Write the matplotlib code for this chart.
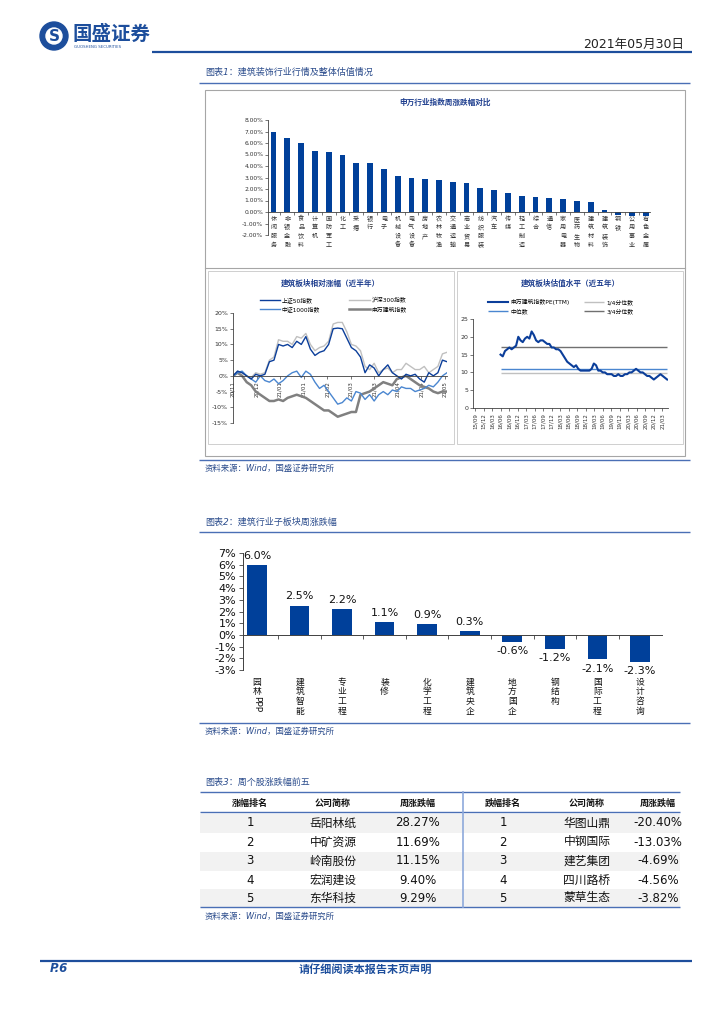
import numpy as np
import matplotlib
matplotlib.use('Agg')
import matplotlib.pyplot as plt
from matplotlib.patches import Rectangle, Circle

plt.rcParams['font.family'] = ['DejaVu Sans', 'Noto Sans CJK SC']
plt.rcParams['axes.unicode_minus'] = False

W, H = 724, 1024
BLUE = '#1D4E9C'
NAVY = '#00409A'
CAP = '#2B4C8C'
GRID = '#404040'
CJK = 'Noto Sans CJK SC'

# ---- 图表1 上: 申万行业指数周涨跌幅 ----
sw_names = ['休闲服务', '非银金融', '食品饮料', '计算机', '国防军工', '化工', '采掘',
            '银行', '电子', '机械设备', '电气设备', '房地产', '农林牧渔', '交通运输',
            '商业贸易', '纺织服装', '汽车', '传媒', '轻工制造', '综合', '通信',
            '家用电器', '医药生物', '建筑材料', '建筑装饰', '钢铁', '公用事业', '有色金属']
sw_chg = [6.93, 6.43, 6.00, 5.30, 5.22, 4.97, 4.27, 4.22, 3.78, 3.10, 2.94, 2.88,
          2.82, 2.62, 2.50, 2.06, 1.95, 1.63, 1.42, 1.31, 1.19, 1.13, 0.93, 0.87,
          0.15, -0.30, -0.32, -0.35]

# ---- 图表1 左下: 建筑板块相对涨幅（近半年）----
rel_ticks = ['20/11', '20/12', '21/01', '21/01', '21/02', '21/03', '21/03', '21/04', '21/04', '21/05']
sz50 = [0, 1.5, 1.0, 0, -1.0, 0.5, 0, 0.5, 4.5, 5, 10, 9.5, 10, 9, 11, 10, 12.5, 8.5,
        6.5, 7.5, 8, 10, 15, 15.2, 15, 12, 9, 8, 6, 1, 3.5, 2.5, 0, 2, 3.5, 1, 0, -1,
        0.5, 0, 0.5, -1, -2, 1, 0, 1, 5, 4.5]
hs300 = [0, 1.5, 1.0, 0, -0.5, 1, 0.5, 1, 5, 6, 11.5, 11, 11, 10, 12.5, 12, 13.5, 10,
         8, 9, 9.5, 11, 16.5, 17, 17, 14, 10, 9.5, 8, 3, 2, 4, 1, 2, 2.5, 1, 2, 2, 4,
         3, 2, 2, 3, 1, 2, 3, 7, 7.5]
zz1000 = [0, 1, 1.5, 0, -1, -2, 0, -1.5, -2, -1, -2.5, -1.5, 0, 1, 1.5, -0.5, 1.5, 0.5,
          -2, -4, -3, -5, -7, -9, -8.5, -7, -8, -5, -5.5, -7.5, -6, -8, -6, -5, -6,
          -4.5, -5, -3.5, -4, -4, -5, -4.5, -4, -3, -3.5, -2, 0, 1]
sw_build = [0, 1, 0, -2, -3, -5, -6, -7, -8, -8, -7.5, -8, -7, -6.5, -6, -6.5, -7, -8,
            -9, -10, -11, -11, -12, -13, -12.5, -12, -11.5, -11.5, -6, -5.5, -5, -4,
            -3, -2, -2.5, -3, -1, -0.5, 0, -1, -2, -3, -3.5, -4, -5, -5.5, -5, -5]

# ---- 图表1 右下: 建筑板块估值水平（近五年）----
pe_ticks = ['15/09', '15/12', '16/03', '16/06', '16/09', '16/12', '17/03', '17/06',
            '17/09', '17/12', '18/03', '18/06', '18/09', '18/12', '19/03', '19/06',
            '19/09', '19/12', '20/03', '20/06', '20/09', '20/12', '21/03']
pe = [15, 14.5, 16, 16.5, 17, 16.5, 17, 17.5, 20, 19, 18.5, 19.5, 20, 19.5, 21.5, 20.5,
      19, 18.5, 19, 19, 18.5, 18, 18, 17, 17, 16.5, 16.5, 16, 15, 14, 13, 12.5, 12,
      11.5, 12, 11, 10.5, 10.5, 10.5, 10.5, 10.5, 11, 12.5, 12, 10.5, 10.5, 10, 10,
      9.5, 9.5, 9.5, 9, 9, 9.5, 9, 9, 9.5, 9.5, 10, 10, 10.5, 11, 10.5, 10, 10, 9.5,
      9, 9, 8.5, 8, 8.5, 9, 9.5, 9, 8.5, 8]
pe_q1, pe_med, pe_q3 = 9.7, 11.0, 17.0

# ---- 图表2: 建筑行业子板块周涨跌幅 ----
sub_names = ['园林PPP', '建筑智能', '专业工程', '装修', '化学工程', '建筑央企',
             '地方国企', '钢结构', '国际工程', '设计咨询']
sub_chg = [6.0, 2.5, 2.2, 1.1, 0.9, 0.3, -0.6, -1.2, -2.1, -2.3]

# ---- 图表3: 周个股涨跌幅前五 ----
tbl_header = ['涨幅排名', '公司简称', '周涨跌幅', '跌幅排名', '公司简称', '周涨跌幅']
up_rank = ['1', '2', '3', '4', '5']
up_name = ['岳阳林纸', '中矿资源', '岭南股份', '宏润建设', '东华科技']
up_chg = ['28.27%', '11.69%', '11.15%', '9.40%', '9.29%']
dn_rank = ['1', '2', '3', '4', '5']
dn_name = ['华图山鼎', '中钢国际', '建艺集团', '四川路桥', '蒙草生态']
dn_chg = ['-20.40%', '-13.03%', '-4.69%', '-4.56%', '-3.82%']

fig = plt.figure(figsize=(W / 100, H / 100), dpi=100)
bg = fig.add_axes([0, 0, 1, 1])
bg.set_xlim(0, W)
bg.set_ylim(H, 0)
bg.axis('off')


def px_axes(x0, y0, x1, y1):
    a = fig.add_axes([x0 / W, 1 - y1 / H, (x1 - x0) / W, (y1 - y0) / H])
    a.patch.set_alpha(0)
    return a


def hline(y, x0=199, x1=690, color='#4A6FB5', lw=1.0):
    bg.plot([x0, x1], [y, y], color=color, lw=lw, solid_capstyle='butt')


def stack(s):
    return '\n'.join(s)


# header
bg.add_patch(Circle((54, 36), 14, color=BLUE))
bg.add_patch(Circle((54, 36), 8, color='white'))
bg.text(54, 36.5, 'S', color=BLUE, fontsize=11, fontweight='bold', ha='center', va='center')
bg.text(73, 34, '国盛证券', fontsize=14, fontweight='bold', color=BLUE, va='center', family=CJK)
bg.text(74, 47, 'GUOSHENG SECURITIES', fontsize=2.8, color=BLUE, va='center')
bg.text(684, 44, '2021年05月30日', fontsize=9, ha='right', va='center', color='#222222')
hline(52, 152, 692, BLUE, 1.6)

# captions / sources
cap_kw = dict(fontsize=6.5, color=CAP, va='center', style='italic')
src_kw = dict(fontsize=6, color=CAP, va='center', style='italic')
bg.text(205, 72, '图表1：建筑装饰行业行情及整体估值情况', **cap_kw)
hline(83)
bg.text(205, 468, '资料来源：Wind，国盛证券研究所', **src_kw)
hline(460)
bg.text(205, 522, '图表2：建筑行业子板块周涨跌幅', **cap_kw)
hline(532)
bg.text(205, 731, '资料来源：Wind，国盛证券研究所', **src_kw)
hline(723)
bg.text(205, 782, '图表3：周个股涨跌幅前五', **cap_kw)
bg.text(205, 916, '资料来源：Wind，国盛证券研究所', **src_kw)

# chart 1 frames
fc = '#A6A6A6'
bg.add_patch(Rectangle((205, 90), 480, 366, fill=False, ec=fc, lw=0.8))
bg.plot([205, 685], [268, 268], color=fc, lw=0.8)
bg.add_patch(Rectangle((208, 271), 246, 173, fill=False, ec='#C8C8C8', lw=0.6))
bg.add_patch(Rectangle((457, 271), 226, 173, fill=False, ec='#C8C8C8', lw=0.6))

ttl_kw = dict(fontsize=5.5, fontweight='bold', color='#1F3F8F', ha='center', va='center',
              family=CJK)
bg.text(445, 102, '申万行业指数周涨跌幅对比', **ttl_kw)
bg.text(330, 283, '建筑板块相对涨幅（近半年）', **ttl_kw)
bg.text(570, 283, '建筑板块估值水平（近五年）', **ttl_kw)

# ---- chart 1 top ----
ax1 = px_axes(268, 120, 650, 235)
x1 = np.arange(len(sw_names))
ax1.bar(x1, sw_chg, width=0.42, color=NAVY)
ax1.set_ylim(-2, 8)
ax1.set_xlim(-0.4, len(sw_names) - 0.7)
ax1.set_yticks(np.arange(-2, 9, 1))
ax1.set_yticklabels([f'{v:.2f}%' for v in np.arange(-2, 9, 1)], fontsize=4.3, color='#333333')
ax1.spines['bottom'].set_position(('data', 0))
for s in ['top', 'right']:
    ax1.spines[s].set_visible(False)
for s in ['left', 'bottom']:
    ax1.spines[s].set_color(GRID)
    ax1.spines[s].set_linewidth(0.6)
ax1.set_xticks(x1)
ax1.set_xticklabels([stack(n) for n in sw_names], fontsize=4.4, color='#333333',
                    linespacing=1.1, family=CJK)
ax1.tick_params(axis='x', which='major', length=0, pad=2)
ax1.set_xticks(x1[:-1] + 0.5, minor=True)
ax1.tick_params(axis='x', which='minor', length=2, width=0.5, color=GRID)
ax1.tick_params(axis='y', length=2, width=0.5, color=GRID, pad=1.5)

# ---- chart 1 bottom left ----
ax3 = px_axes(233, 313, 447, 423)
for ser, col, lw, lab in [(sw_build, '#808080', 1.8, '申万建筑指数'),
                          (hs300, '#C0C0C0', 1.0, '沪深300指数'),
                          (zz1000, '#4A86D0', 1.0, '中证1000指数'),
                          (sz50, '#0B3E9A', 1.0, '上证50指数')]:
    ax3.plot(np.linspace(0, 1, len(ser)), ser, color=col, lw=lw, label=lab)
ax3.set_xlim(0, 1)
ax3.set_ylim(-15, 20)
ax3.set_yticks(np.arange(-15, 21, 5))
ax3.set_yticklabels([f'{v}%' for v in np.arange(-15, 21, 5)], fontsize=4.5, color='#333333')
ax3.spines['bottom'].set_position(('data', 0))
for s in ['top', 'right']:
    ax3.spines[s].set_visible(False)
for s in ['left', 'bottom']:
    ax3.spines[s].set_color(GRID)
    ax3.spines[s].set_linewidth(0.6)
ax3.set_xticks(np.linspace(0, 0.99, len(rel_ticks)))
ax3.set_xticklabels(rel_ticks, rotation=90, fontsize=4, color='#333333')
ax3.tick_params(length=2, width=0.5, color=GRID, pad=1.5)
h, l = ax3.get_legend_handles_labels()
order = [3, 2, 1, 0]
ax3.legend([h[i] for i in order], [l[i] for i in order], ncol=2, fontsize=4.2,
           frameon=False, loc='upper left', bbox_to_anchor=(0.1, 1.19),
           handlelength=3.5, columnspacing=5, handletextpad=0.3, labelspacing=0.5)

# ---- chart 1 bottom right ----
ax4 = px_axes(473, 319, 668, 408)
pe_x = np.linspace(9, 67.7, len(pe))
ax4.plot(pe_x, pe, color='#0B3E9A', lw=1.5, label='申万建筑指数PE(TTM)', zorder=3)
ax4.hlines(pe_q1, pe_x[0], pe_x[-1], color='#C0C0C0', lw=1.0, label='1/4分位数')
ax4.hlines(pe_med, pe_x[0], pe_x[-1], color='#4A86D0', lw=1.0, label='中位数')
ax4.hlines(pe_q3, pe_x[0], pe_x[-1], color='#707070', lw=1.0, label='3/4分位数')
ax4.set_xlim(-0.7, 68)
ax4.set_ylim(0, 25)
ax4.set_yticks(np.arange(0, 26, 5))
ax4.tick_params(axis='y', labelsize=4.5, labelcolor='#333333')
for s in ['top', 'right']:
    ax4.spines[s].set_visible(False)
for s in ['left', 'bottom']:
    ax4.spines[s].set_color(GRID)
    ax4.spines[s].set_linewidth(0.6)
ax4.set_xticks(np.arange(0, 3 * len(pe_ticks), 3))
ax4.set_xticklabels(pe_ticks, rotation=90, fontsize=4, color='#333333')
ax4.tick_params(length=2, width=0.5, color=GRID, pad=1.5)
h, l = ax4.get_legend_handles_labels()
order = [0, 2, 1, 3]
ax4.legend([h[i] for i in order], [l[i] for i in order], ncol=2, fontsize=4.2,
           frameon=False, loc='upper left', bbox_to_anchor=(0.05, 1.28),
           handlelength=3.5, columnspacing=2.5, handletextpad=0.3, labelspacing=0.5)

# ---- chart 2 ----
ax2 = px_axes(243, 553, 662, 670)
x2 = np.arange(len(sub_names))
ax2.bar(x2, sub_chg, width=0.46, color=NAVY)
ax2.set_ylim(-3, 7)
ax2.set_xlim(-0.33, len(sub_names) - 0.48)
ax2.set_yticks(np.arange(-3, 8, 1))
ax2.set_yticklabels([f'{v}%' for v in np.arange(-3, 8, 1)], fontsize=8, color='#111111')
ax2.spines['bottom'].set_position(('data', 0))
for s in ['top', 'right']:
    ax2.spines[s].set_visible(False)
for s in ['left', 'bottom']:
    ax2.spines[s].set_color(GRID)
    ax2.spines[s].set_linewidth(0.7)
ax2.set_xticks(x2)
ax2.set_xticklabels([])
ax2.tick_params(axis='x', which='major', length=0)
ax2.set_xticks(x2[:-1] + 0.5, minor=True)
ax2.tick_params(axis='x', which='minor', length=3, width=0.6, color=GRID)
ax2.tick_params(axis='y', length=3, width=0.6, color=GRID, pad=2)
for xi, v in zip(x2, sub_chg):
    ax2.annotate(f'{v:.1f}%', (xi, v), xytext=(0, 3 if v >= 0 else -3),
                 textcoords='offset points', ha='center',
                 va='bottom' if v >= 0 else 'top', fontsize=8, color='#111111')
xt = ax2.get_xaxis_transform()
for xi, n in zip(x2, sub_names):
    zh = ''.join(c for c in n if ord(c) > 127)
    en = ''.join(c for c in n if ord(c) <= 127)
    ax2.text(xi, -0.065, stack(zh), transform=xt, ha='center', va='top', fontsize=6.3,
             color='#111111', linespacing=1.1, family=CJK)
    if en:
        ax2.annotate(en, (xi, -0.065), xycoords=xt, xytext=(0, -6.3 * 1.05 * len(zh)),
                     textcoords='offset points', rotation=-90, ha='center', va='top',
                     fontsize=6.5, color='#111111')

# ---- table ----
tx = [250, 333, 418, 503, 587, 658]
hline(792, 200, 680, '#4A6FB5', 1.0)
hline(812, 200, 680, '#4A6FB5', 1.0)
hline(907, 200, 680, '#4A6FB5', 1.0)
row_y = [823, 842, 861, 880, 898]
for i, y in enumerate(row_y):
    if i % 2 == 0:
        bg.add_patch(Rectangle((200, y - 9.5), 480, 19, color='#F2F2F2', lw=0))
bg.plot([463, 463], [792, 907], color='#8EA9DB', lw=1.2)
for x, t in zip(tx, tbl_header):
    bg.text(x, 803, t, fontsize=6.5, fontweight='bold', ha='center', va='center',
            color='#111111', family=CJK)
cols = [up_rank, up_name, up_chg, dn_rank, dn_name, dn_chg]
for x, col in zip(tx, cols):
    for y, t in zip(row_y, col):
        bg.text(x, y, t, fontsize=8.5, ha='center', va='center', color='#111111')

# footer
hline(961, 40, 692, BLUE, 1.6)
bg.text(50, 969, 'P.6', fontsize=8.5, fontweight='bold', style='italic', color=BLUE,
        va='center')
bg.text(365, 969, '请仔细阅读本报告末页声明', fontsize=8, fontweight='bold', color=BLUE,
        ha='center', va='center', family=CJK)

fig.savefig('out.png', dpi=100)
